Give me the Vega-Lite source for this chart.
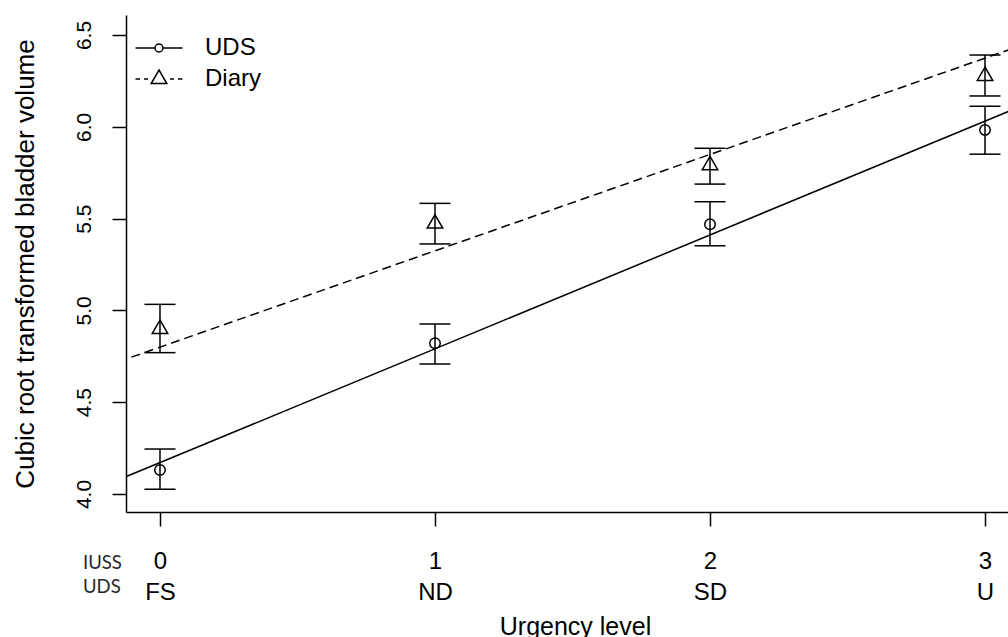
{
  "$schema": "https://vega.github.io/schema/vega-lite/v6.json",
  "width": 882,
  "height": 497,
  "autosize": {"type": "none"},
  "padding": {"left": 126, "top": 15, "right": 0, "bottom": 125},
  "background": "white",
  "config": {
    "view": {"stroke": null},
    "font": "Liberation Sans",
    "axis": {"grid": false, "domainColor": "black", "domainWidth": 1.5, "tickColor": "black", "tickWidth": 1.5, "tickSize": 14, "labelColor": "black", "titleColor": "black", "titleFontWeight": "normal", "labelFlush": false, "labelOverlap": false}
  },
  "datasets": {
    "points": [
      {"level": 0, "series": "UDS", "mean": 4.131, "lo": 4.026, "hi": 4.245},
      {"level": 1, "series": "UDS", "mean": 4.821, "lo": 4.708, "hi": 4.926},
      {"level": 2, "series": "UDS", "mean": 5.469, "lo": 5.352, "hi": 5.592},
      {"level": 3, "series": "UDS", "mean": 5.983, "lo": 5.851, "hi": 6.112},
      {"level": 0, "series": "Diary", "mean": 4.911, "lo": 4.770, "hi": 5.033},
      {"level": 1, "series": "Diary", "mean": 5.485, "lo": 5.362, "hi": 5.583},
      {"level": 2, "series": "Diary", "mean": 5.803, "lo": 5.688, "hi": 5.883},
      {"level": 3, "series": "Diary", "mean": 6.289, "lo": 6.168, "hi": 6.391}
    ],
    "fits": [
      {"series": "UDS", "level": -0.2, "value": 4.047},
      {"series": "UDS", "level": 3.2, "value": 6.155},
      {"series": "Diary", "level": -0.2, "value": 4.695},
      {"series": "Diary", "level": 3.2, "value": 6.479}
    ],
    "annot": [
      {"level": -0.28, "value": 3.5915, "label": "IUSS"},
      {"level": -0.28, "value": 3.459, "label": "UDS"}
    ]
  },
  "layer": [
    {
      "data": {"name": "fits"},
      "transform": [{"filter": "datum.series === 'UDS'"}],
      "mark": {"type": "line", "strokeWidth": 1.5, "color": "black", "clip": true},
      "encoding": {
        "x": {
          "field": "level", "type": "quantitative",
          "scale": {"domain": [-0.1236, 3.0836], "nice": false, "zero": false},
          "axis": {
            "values": [0, 1, 2, 3], "format": "d",
            "labelExpr": "[datum.label, ['FS','ND','SD','U'][datum.value]]",
            "labelFontSize": 24, "labelLineHeight": 31, "labelBaseline": "alphabetic", "labelAlign": "center", "labelPadding": 42,
            "title": "Urgency level", "titleFontSize": 25, "titleX": 449, "titleY": 122, "titleBaseline": "alphabetic", "titleAlign": "center"
          }
        },
        "y": {
          "field": "value", "type": "quantitative",
          "scale": {"domain": [3.902, 6.609], "nice": false, "zero": false},
          "axis": {
            "values": [4, 4.5, 5, 5.5, 6, 6.5], "format": ".1f",
            "labelAngle": 270, "labelAlign": "center", "labelBaseline": "alphabetic", "labelPadding": 22, "labelFontSize": 21,
            "title": "Cubic root transformed bladder volume", "titleFontSize": 26, "titleAngle": 270, "titleX": -93, "titleY": 248.5, "titleAlign": "center", "titleBaseline": "alphabetic"
          }
        }
      }
    },
    {
      "data": {"name": "fits"},
      "transform": [{"filter": "datum.series === 'Diary'"}],
      "mark": {"type": "line", "strokeWidth": 1.5, "color": "black", "clip": true, "strokeDash": [9, 5]},
      "encoding": {
        "x": {"field": "level", "type": "quantitative"},
        "y": {"field": "value", "type": "quantitative"}
      }
    },
    {
      "mark": {"type": "rule", "strokeWidth": 1.5, "color": "black"},
      "encoding": {"y": {"datum": 6.609}}
    },
    {
      "data": {"name": "points"},
      "mark": {"type": "rule", "strokeWidth": 1.5, "color": "black"},
      "encoding": {
        "x": {"field": "level", "type": "quantitative"},
        "y": {"field": "lo", "type": "quantitative"},
        "y2": {"field": "hi"}
      }
    },
    {
      "data": {"name": "points"},
      "mark": {"type": "tick", "orient": "horizontal", "size": 31, "thickness": 1.5, "color": "black", "opacity": 1},
      "encoding": {
        "x": {"field": "level", "type": "quantitative"},
        "y": {"field": "lo", "type": "quantitative"}
      }
    },
    {
      "data": {"name": "points"},
      "mark": {"type": "tick", "orient": "horizontal", "size": 31, "thickness": 1.5, "color": "black", "opacity": 1},
      "encoding": {
        "x": {"field": "level", "type": "quantitative"},
        "y": {"field": "hi", "type": "quantitative"}
      }
    },
    {
      "data": {"name": "points"},
      "transform": [{"filter": "datum.series === 'UDS'"}],
      "mark": {"type": "point", "shape": "circle", "size": 110, "filled": false, "stroke": "black", "strokeWidth": 1.5, "opacity": 1},
      "encoding": {
        "x": {"field": "level", "type": "quantitative"},
        "y": {"field": "mean", "type": "quantitative"}
      }
    },
    {
      "data": {"name": "points"},
      "transform": [{"filter": "datum.series === 'Diary'"}],
      "mark": {"type": "point", "shape": "triangle-up", "size": 240, "filled": false, "stroke": "black", "strokeWidth": 1.5, "opacity": 1},
      "encoding": {
        "x": {"field": "level", "type": "quantitative"},
        "y": {"field": "mean", "type": "quantitative"}
      }
    },
    {
      "data": {"name": "fits"},
      "mark": {"type": "point", "filled": false, "clip": true, "size": 20, "color": "black", "opacity": 1, "strokeWidth": 1.5},
      "encoding": {
        "x": {"field": "level", "type": "quantitative"},
        "y": {"field": "value", "type": "quantitative"},
        "shape": {
          "field": "series", "type": "nominal",
          "scale": {"domain": ["UDS", "Diary"], "range": ["M-2.35,0H-0.4M0.4,0H2.35M0.4,0A0.4,0.4 0 1 1 -0.4,0A0.4,0.4 0 1 1 0.4,0", "M-2.35,0H-1.9M-1.5,0H-1.1M1.1,0H1.5M1.9,0H2.35M0,-0.9L0.78,0.45L-0.78,0.45Z"]},
          "legend": {
            "title": null, "orient": "top-left", "offset": 21, "padding": 0,
            "symbolSize": 400, "symbolStrokeColor": "black", "symbolFillColor": "transparent", "symbolStrokeWidth": 1.5, "symbolOpacity": 1,
            "labelFontSize": 24, "labelColor": "black", "labelOffset": 34, "rowPadding": 7
          }
        }
      }
    },
    {
      "data": {"name": "annot"},
      "mark": {"type": "text", "font": "Lato", "fontSize": 18.5, "align": "left", "baseline": "alphabetic", "color": "#262626", "clip": false},
      "encoding": {
        "x": {"field": "level", "type": "quantitative"},
        "y": {"field": "value", "type": "quantitative"},
        "text": {"field": "label"}
      }
    }
  ]
}
